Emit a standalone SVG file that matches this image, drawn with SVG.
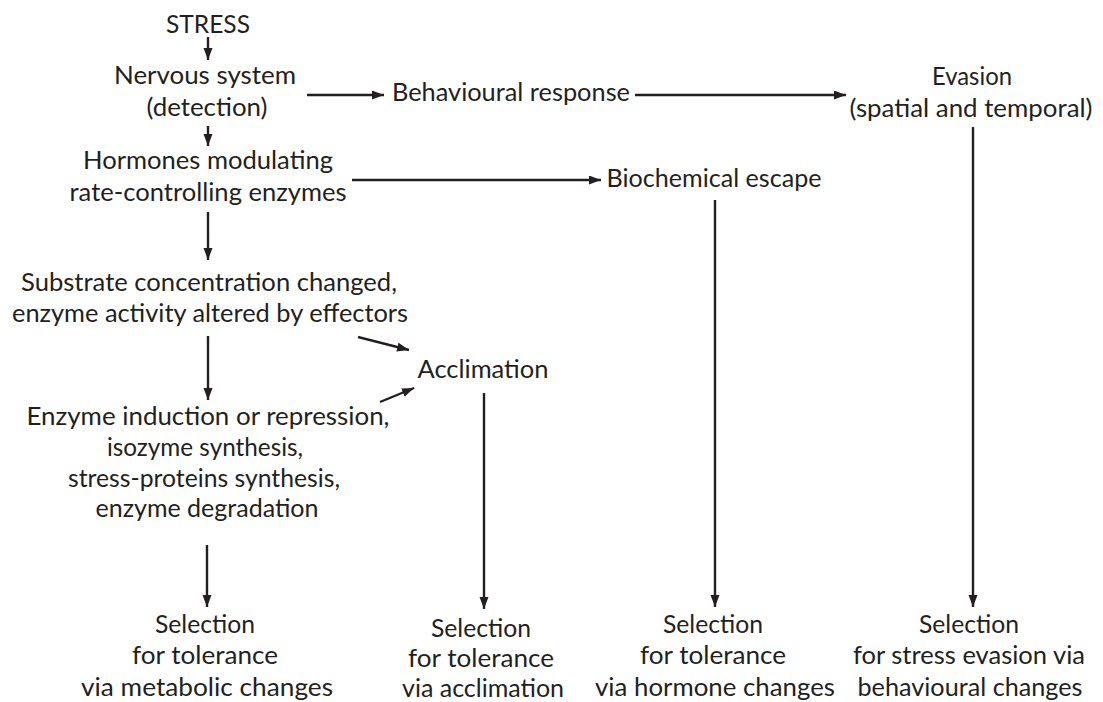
<svg xmlns="http://www.w3.org/2000/svg" width="1103" height="702" viewBox="0 0 1103 702">
<style>
text{font-family:"Lato","Open Sans","Liberation Sans",sans-serif;font-size:24.5px;fill:#231f20;text-anchor:middle}
.c{stroke:#231f20;stroke-width:2.4;fill:none;marker-end:url(#ah)}
</style>
<defs>
<marker id="ah" markerUnits="userSpaceOnUse" markerWidth="13" markerHeight="10" refX="12" refY="4.5" orient="auto">
<path d="M0,0 L12,4.5 L0,9 z" fill="#231f20"/>
</marker>
</defs>
<rect width="1103" height="702" fill="#fff"/>
<g id="connectors">
<line class="c" x1="208" y1="37" x2="208" y2="60"/>
<line class="c" x1="208" y1="126" x2="208" y2="146"/>
<line class="c" x1="208" y1="212" x2="208" y2="260"/>
<line class="c" x1="208" y1="336" x2="208" y2="400"/>
<line class="c" x1="207" y1="545" x2="207" y2="607"/>
<line class="c" x1="307" y1="95" x2="384" y2="95"/>
<line class="c" x1="635" y1="95" x2="846" y2="95"/>
<line class="c" x1="352" y1="180" x2="601" y2="180"/>
<line class="c" x1="715" y1="200" x2="715" y2="607"/>
<line class="c" x1="973" y1="127" x2="973" y2="607"/>
<line class="c" x1="358" y1="337" x2="409" y2="350"/>
<line class="c" x1="380" y1="402" x2="414" y2="388"/>
<line class="c" x1="484" y1="393" x2="484" y2="609"/>
</g>
<g id="stress"><text x="208" y="33" textLength="84" lengthAdjust="spacingAndGlyphs">STRESS</text></g>
<g id="nervous">
<text x="205" y="84" textLength="182" lengthAdjust="spacingAndGlyphs">Nervous system</text>
<text x="207" y="116" textLength="121" lengthAdjust="spacingAndGlyphs">(detection)</text>
</g>
<g id="hormones">
<text x="208" y="169" textLength="250" lengthAdjust="spacingAndGlyphs">Hormones modulating</text>
<text x="208" y="201" textLength="277" lengthAdjust="spacingAndGlyphs">rate-controlling enzymes</text>
</g>
<g id="substrate">
<text x="209" y="291" textLength="376" lengthAdjust="spacingAndGlyphs">Substrate concentration changed,</text>
<text x="210" y="322" textLength="396" lengthAdjust="spacingAndGlyphs">enzyme activity altered by effectors</text>
</g>
<g id="induction">
<text x="208" y="425" textLength="363" lengthAdjust="spacingAndGlyphs">Enzyme induction or repression,</text>
<text x="205" y="456" textLength="196" lengthAdjust="spacingAndGlyphs">isozyme synthesis,</text>
<text x="204" y="487" textLength="272" lengthAdjust="spacingAndGlyphs">stress-proteins synthesis,</text>
<text x="207" y="517" textLength="223" lengthAdjust="spacingAndGlyphs">enzyme degradation</text>
</g>
<g id="behavioural"><text x="511" y="101" textLength="238" lengthAdjust="spacingAndGlyphs">Behavioural response</text></g>
<g id="evasion">
<text x="972" y="85" textLength="80" lengthAdjust="spacingAndGlyphs">Evasion</text>
<text x="971" y="117" textLength="243" lengthAdjust="spacingAndGlyphs">(spatial and temporal)</text>
</g>
<g id="biochemical"><text x="714" y="187" textLength="215" lengthAdjust="spacingAndGlyphs">Biochemical escape</text></g>
<g id="acclimation"><text x="483" y="378" textLength="131" lengthAdjust="spacingAndGlyphs">Acclimation</text></g>
<g id="sel-metabolic">
<text x="205" y="633" textLength="100" lengthAdjust="spacingAndGlyphs">Selection</text>
<text x="205" y="664" textLength="146" lengthAdjust="spacingAndGlyphs">for tolerance</text>
<text x="207" y="696" textLength="252" lengthAdjust="spacingAndGlyphs">via metabolic changes</text>
</g>
<g id="sel-acclimation">
<text x="481" y="637" textLength="100" lengthAdjust="spacingAndGlyphs">Selection</text>
<text x="481" y="667" textLength="146" lengthAdjust="spacingAndGlyphs">for tolerance</text>
<text x="483" y="697" textLength="162" lengthAdjust="spacingAndGlyphs">via acclimation</text>
</g>
<g id="sel-hormone">
<text x="713" y="633" textLength="100" lengthAdjust="spacingAndGlyphs">Selection</text>
<text x="713" y="664" textLength="146" lengthAdjust="spacingAndGlyphs">for tolerance</text>
<text x="715" y="696" textLength="240" lengthAdjust="spacingAndGlyphs">via hormone changes</text>
</g>
<g id="sel-behavioural">
<text x="969" y="633" textLength="100" lengthAdjust="spacingAndGlyphs">Selection</text>
<text x="969" y="664" textLength="232" lengthAdjust="spacingAndGlyphs">for stress evasion via</text>
<text x="970" y="696" textLength="225" lengthAdjust="spacingAndGlyphs">behavioural changes</text>
</g>
</svg>
